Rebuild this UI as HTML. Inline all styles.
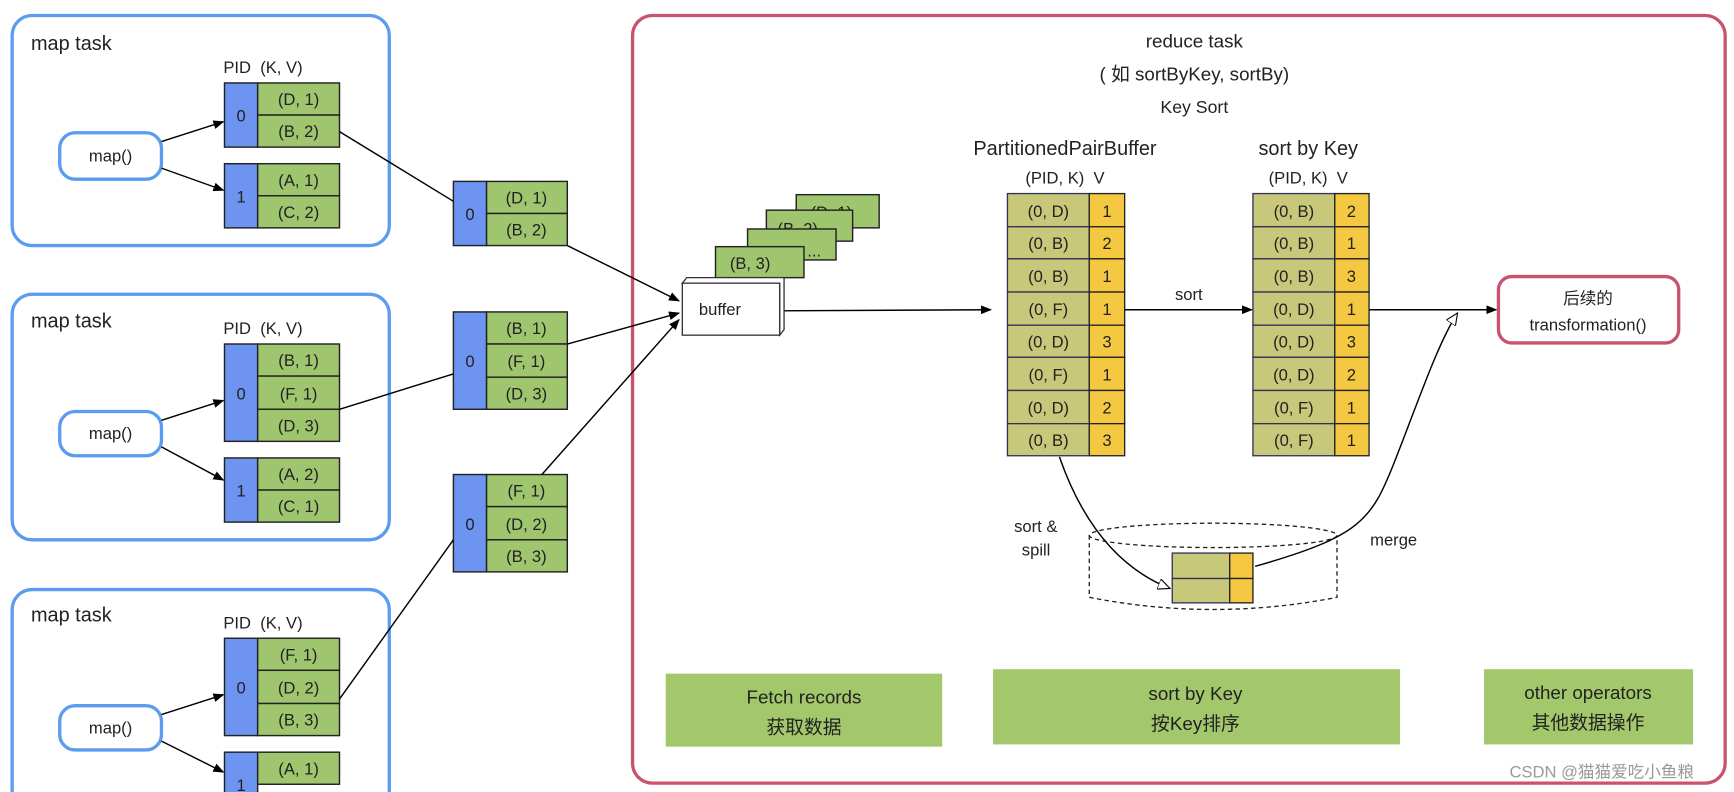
<!DOCTYPE html>
<html><head><meta charset="utf-8"><style>
html,body{margin:0;padding:0;background:#fff;}
svg{display:block;font-family:"Liberation Sans","Noto Sans CJK SC",sans-serif;}
</style></head><body>
<svg width="1734" height="792" viewBox="0 0 1568 716" preserveAspectRatio="none" xmlns="http://www.w3.org/2000/svg">
<defs>
<marker id="a" markerWidth="10" markerHeight="8" refX="9" refY="4" orient="auto" markerUnits="userSpaceOnUse"><path d="M0,0 L10,4 L0,8 Z" fill="#000"/></marker>
<marker id="h" markerWidth="12" markerHeight="10" refX="11" refY="5" orient="auto" markerUnits="userSpaceOnUse"><path d="M0,0 L11,5 L0,10 Z" fill="#fff" stroke="#000"/></marker>
</defs>
<rect width="1568" height="716" fill="#fff"/>

<g fill="none" stroke="#5b9cf0" stroke-width="3">
<rect x="11" y="14" width="341" height="208" rx="18"/>
<rect x="11" y="266" width="341" height="222" rx="18"/>
<rect x="11" y="533" width="341" height="200" rx="18"/>
<rect x="54" y="120" width="92" height="42" rx="14"/>
<rect x="54" y="372" width="92" height="40" rx="14"/>
<rect x="54" y="638" width="92" height="40" rx="14"/>
</g>
<g font-size="18" fill="#222">
<text x="28" y="45">map task</text><text x="28" y="296">map task</text><text x="28" y="562">map task</text>
</g>
<g font-size="15" fill="#222" xml:space="preserve">
<text x="202" y="66" xml:space="preserve">PID  (K, V)</text><text x="202" y="302" xml:space="preserve">PID  (K, V)</text><text x="202" y="568" xml:space="preserve">PID  (K, V)</text>
</g>
<g font-size="15" fill="#222" text-anchor="middle">
<text x="100" y="146">map()</text><text x="100" y="397">map()</text><text x="100" y="663">map()</text>
</g>

<g stroke="#000" stroke-width="1.3" fill="none" marker-end="url(#a)">
<line x1="146" y1="128" x2="202" y2="110"/><line x1="146" y1="152" x2="202" y2="172"/>
<line x1="146" y1="380" x2="202" y2="362"/><line x1="146" y1="404" x2="202" y2="434"/>
<line x1="146" y1="646" x2="202" y2="628"/><line x1="146" y1="670" x2="202" y2="698"/>
</g>

<g stroke="#222" stroke-width="1.3" font-size="15">
<rect x="203" y="75" width="30" height="58" fill="#6d94f0"/><rect x="233" y="75" width="74" height="29" fill="#9fc66f"/><rect x="233" y="104" width="74" height="29" fill="#9fc66f"/>
<rect x="203" y="148" width="30" height="58" fill="#6d94f0"/><rect x="233" y="148" width="74" height="29" fill="#9fc66f"/><rect x="233" y="177" width="74" height="29" fill="#9fc66f"/>
<rect x="203" y="311" width="30" height="88" fill="#6d94f0"/><rect x="233" y="311" width="74" height="29" fill="#9fc66f"/><rect x="233" y="340" width="74" height="30" fill="#9fc66f"/><rect x="233" y="370" width="74" height="29" fill="#9fc66f"/>
<rect x="203" y="414" width="30" height="58" fill="#6d94f0"/><rect x="233" y="414" width="74" height="29" fill="#9fc66f"/><rect x="233" y="443" width="74" height="29" fill="#9fc66f"/>
<rect x="203" y="577" width="30" height="88" fill="#6d94f0"/><rect x="233" y="577" width="74" height="29" fill="#9fc66f"/><rect x="233" y="606" width="74" height="30" fill="#9fc66f"/><rect x="233" y="636" width="74" height="29" fill="#9fc66f"/>
<rect x="203" y="680" width="30" height="58" fill="#6d94f0"/><rect x="233" y="680" width="74" height="29" fill="#9fc66f"/>
<rect x="410" y="164" width="30" height="58" fill="#6d94f0"/><rect x="440" y="164" width="73" height="29" fill="#9fc66f"/><rect x="440" y="193" width="73" height="29" fill="#9fc66f"/>
<rect x="410" y="282" width="30" height="88" fill="#6d94f0"/><rect x="440" y="282" width="73" height="29" fill="#9fc66f"/><rect x="440" y="311" width="73" height="30" fill="#9fc66f"/><rect x="440" y="341" width="73" height="29" fill="#9fc66f"/>
<rect x="410" y="429" width="30" height="88" fill="#6d94f0"/><rect x="440" y="429" width="73" height="29" fill="#9fc66f"/><rect x="440" y="458" width="73" height="30" fill="#9fc66f"/><rect x="440" y="488" width="73" height="29" fill="#9fc66f"/>
</g>
<g font-size="15" fill="#222" text-anchor="middle">
<text x="218" y="110">0</text><text x="270" y="95">(D, 1)</text><text x="270" y="124">(B, 2)</text>
<text x="218" y="183">1</text><text x="270" y="168">(A, 1)</text><text x="270" y="197">(C, 2)</text>
<text x="218" y="361">0</text><text x="270" y="331">(B, 1)</text><text x="270" y="361">(F, 1)</text><text x="270" y="390">(D, 3)</text>
<text x="218" y="449">1</text><text x="270" y="434">(A, 2)</text><text x="270" y="463">(C, 1)</text>
<text x="218" y="627">0</text><text x="270" y="597">(F, 1)</text><text x="270" y="627">(D, 2)</text><text x="270" y="656">(B, 3)</text>
<text x="218" y="715">1</text><text x="270" y="700">(A, 1)</text>
<text x="425" y="199">0</text><text x="476" y="184">(D, 1)</text><text x="476" y="213">(B, 2)</text>
<text x="425" y="332">0</text><text x="476" y="302">(B, 1)</text><text x="476" y="332">(F, 1)</text><text x="476" y="361">(D, 3)</text>
<text x="425" y="479">0</text><text x="476" y="449">(F, 1)</text><text x="476" y="479">(D, 2)</text><text x="476" y="508">(B, 3)</text>
</g>
<g stroke="#000" stroke-width="1.3" fill="none">
<line x1="307" y1="119" x2="410" y2="182"/>
<line x1="307" y1="370" x2="410" y2="338"/>
<line x1="307" y1="632" x2="410" y2="488"/>
</g>

<rect x="572" y="14" width="988" height="694" rx="18" fill="none" stroke="#c9526e" stroke-width="3"/>
<g text-anchor="middle" fill="#222">
<text x="1080" y="43" font-size="17">reduce task</text>
<text x="1080" y="73" font-size="17">( 如 sortByKey, sortBy)</text>
<text x="1080" y="102" font-size="16">Key Sort</text>
<text x="963" y="140" font-size="18">PartitionedPairBuffer</text>
<text x="963" y="166" font-size="15" xml:space="preserve">(PID, K)  V</text>
<text x="1183" y="140" font-size="18">sort by Key</text>
<text x="1183" y="166" font-size="15" xml:space="preserve">(PID, K)  V</text>
</g>

<g stroke="#000" stroke-width="1.3" fill="none" marker-end="url(#a)">
<line x1="513" y1="222" x2="614" y2="272"/>
<line x1="513" y1="311" x2="614" y2="283"/>
<line x1="490" y1="429" x2="614" y2="289"/>
<line x1="705" y1="281" x2="896" y2="280"/>
<line x1="1017" y1="280" x2="1132" y2="280"/>
<line x1="1238" y1="280" x2="1353" y2="280"/>
</g>

<g stroke="#222" stroke-width="1.3" fill="#9fc66f">
<rect x="720" y="176" width="75" height="30"/>
</g>
<text x="733" y="197" font-size="15" fill="#222">(D, 1)</text>
<rect x="693" y="190" width="78" height="28" stroke="#222" stroke-width="1.3" fill="#9fc66f"/>
<text x="703" y="212" font-size="15" fill="#222">(B, 2)</text>
<rect x="676" y="207" width="80" height="28" stroke="#222" stroke-width="1.3" fill="#9fc66f"/>
<text x="730" y="232" font-size="15" fill="#222">...</text>
<rect x="647" y="223" width="80" height="28" stroke="#222" stroke-width="1.3" fill="#9fc66f"/>
<text x="660" y="243" font-size="15" fill="#222">(B, 3)</text>
<g stroke="#333" stroke-width="1.2" fill="#fff">
<path d="M617,256 L621,251 L709,251 L709,298 L705,303 L705,256 Z"/>
<rect x="617" y="256" width="88" height="47"/>
</g>
<text x="632" y="285" font-size="15" fill="#222">buffer</text>

<g stroke="#335" stroke-width="1.2" font-size="15">
<g fill="#c8c87a">
<rect x="911" y="175" width="74" height="30"/><rect x="911" y="205" width="74" height="29"/><rect x="911" y="234" width="74" height="30"/><rect x="911" y="264" width="74" height="30"/><rect x="911" y="294" width="74" height="29"/><rect x="911" y="323" width="74" height="30"/><rect x="911" y="353" width="74" height="30"/><rect x="911" y="383" width="74" height="29"/>
<rect x="1133" y="175" width="74" height="30"/><rect x="1133" y="205" width="74" height="29"/><rect x="1133" y="234" width="74" height="30"/><rect x="1133" y="264" width="74" height="30"/><rect x="1133" y="294" width="74" height="29"/><rect x="1133" y="323" width="74" height="30"/><rect x="1133" y="353" width="74" height="30"/><rect x="1133" y="383" width="74" height="29"/>
<rect x="1060" y="500" width="52" height="23"/><rect x="1060" y="523" width="52" height="22"/>
</g>
<g fill="#f5c842" stroke="#222">
<rect x="985" y="175" width="32" height="30"/><rect x="985" y="205" width="32" height="29"/><rect x="985" y="234" width="32" height="30"/><rect x="985" y="264" width="32" height="30"/><rect x="985" y="294" width="32" height="29"/><rect x="985" y="323" width="32" height="30"/><rect x="985" y="353" width="32" height="30"/><rect x="985" y="383" width="32" height="29"/>
<rect x="1207" y="175" width="31" height="30"/><rect x="1207" y="205" width="31" height="29"/><rect x="1207" y="234" width="31" height="30"/><rect x="1207" y="264" width="31" height="30"/><rect x="1207" y="294" width="31" height="29"/><rect x="1207" y="323" width="31" height="30"/><rect x="1207" y="353" width="31" height="30"/><rect x="1207" y="383" width="31" height="29"/>
<rect x="1112" y="500" width="21" height="23"/><rect x="1112" y="523" width="21" height="22"/>
</g>
</g>
<g font-size="15" fill="#222" text-anchor="middle">
<text x="948" y="196">(0, D)</text><text x="948" y="225">(0, B)</text><text x="948" y="255">(0, B)</text><text x="948" y="285">(0, F)</text><text x="948" y="314">(0, D)</text><text x="948" y="344">(0, F)</text><text x="948" y="374">(0, D)</text><text x="948" y="403">(0, B)</text>
<text x="1001" y="196">1</text><text x="1001" y="225">2</text><text x="1001" y="255">1</text><text x="1001" y="285">1</text><text x="1001" y="314">3</text><text x="1001" y="344">1</text><text x="1001" y="374">2</text><text x="1001" y="403">3</text>
<text x="1170" y="196">(0, B)</text><text x="1170" y="225">(0, B)</text><text x="1170" y="255">(0, B)</text><text x="1170" y="285">(0, D)</text><text x="1170" y="314">(0, D)</text><text x="1170" y="344">(0, D)</text><text x="1170" y="374">(0, F)</text><text x="1170" y="403">(0, F)</text>
<text x="1222" y="196">2</text><text x="1222" y="225">1</text><text x="1222" y="255">3</text><text x="1222" y="285">1</text><text x="1222" y="314">3</text><text x="1222" y="344">2</text><text x="1222" y="374">1</text><text x="1222" y="403">1</text>
</g>
<text x="1075" y="271" font-size="15" fill="#222" text-anchor="middle">sort</text>

<rect x="1355" y="250" width="163" height="60" rx="12" fill="#fff" stroke="#c9526e" stroke-width="3"/>
<text x="1436" y="275" font-size="15" fill="#222" text-anchor="middle">后续的</text>
<text x="1436" y="299" font-size="15" fill="#222" text-anchor="middle">transformation()</text>

<g fill="none" stroke="#222" stroke-width="1.2" stroke-dasharray="4,3">
<ellipse cx="1097" cy="484" rx="112" ry="11"/>
<path d="M985,484 L985,540 Q1097,562 1209,540 L1209,484"/>
</g>
<g stroke="#000" stroke-width="1.3" fill="none" marker-end="url(#h)">
<path d="M958,413 Q990,505 1058,532"/>
<path d="M1135,512 C1230,485 1240,470 1260,420 S1300,310 1318,283"/>
</g>
<text x="917" y="481" font-size="15" fill="#222">sort &amp;</text>
<text x="924" y="502" font-size="15" fill="#222">spill</text>
<text x="1239" y="493" font-size="15" fill="#222">merge</text>

<g fill="#a3c76b">
<rect x="602" y="609" width="250" height="66"/>
<rect x="898" y="605" width="368" height="68"/>
<rect x="1342" y="605" width="189" height="68"/>
</g>
<g font-size="17" fill="#222" text-anchor="middle">
<text x="727" y="636">Fetch records</text><text x="727" y="663">获取数据</text>
<text x="1081" y="633">sort by Key</text><text x="1081" y="660">按Key排序</text>
<text x="1436" y="632">other operators</text><text x="1436" y="659">其他数据操作</text>
</g>
<text x="1365" y="703" font-size="15" fill="#999">CSDN @猫猫爱吃小鱼粮</text>
</svg>
</body></html>
